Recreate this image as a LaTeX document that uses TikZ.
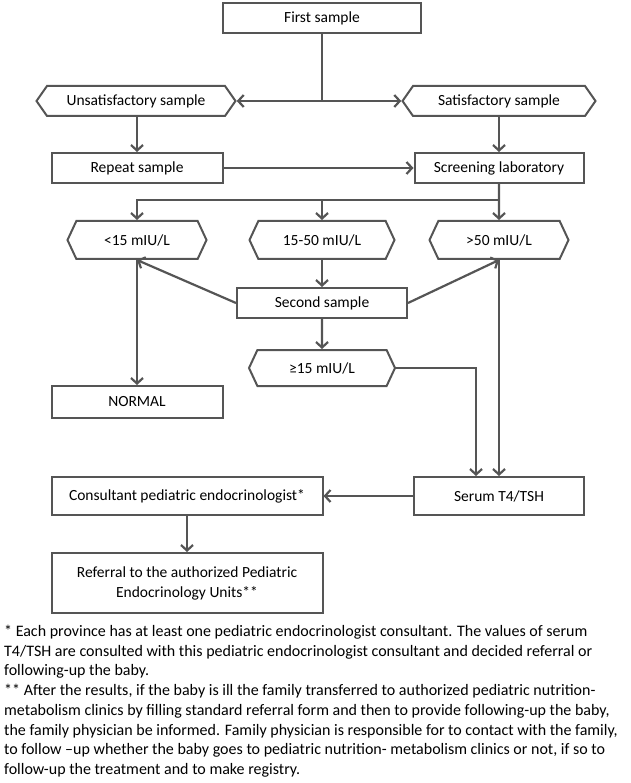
\documentclass[tikz,border=0pt]{standalone}
\usepackage{fontspec}
\setmainfont{Carlito}
\usetikzlibrary{positioning, arrows.meta, shapes.symbols}
\definecolor{linegray}{RGB}{85,85,85}

\tikzset{
    box/.style={draw=linegray, line width=2pt, rectangle, align=center,
        minimum height=30pt, inner sep=2pt, font=\fontsize{15.5}{20}\selectfont},
    hexa/.style={draw=linegray, line width=2pt, signal, signal to=west and east,
        signal pointer angle=110, minimum height=30pt, inner sep=2pt,
        font=\fontsize{15.5}{20}\selectfont},
    line/.style={draw=linegray, line width=2.2pt},
    flow/.style={line, -{Straight Barb[length=5.5pt,width=12pt,line width=2.2pt]}},
}

\begin{document}
\begin{tikzpicture}[x=1pt, y=-1pt]
    \useasboundingbox (0,0) rectangle (630,783);

    \node[box, minimum width=198pt] (first) at (322,18) {First sample};
    \node[hexa, minimum width=199pt] (unsat) at (136,101) {Unsatisfactory sample};
    \node[hexa, minimum width=193pt] (sat) at (499,101) {Satisfactory sample};
    \node[box, minimum width=171pt] (repeat) at (137,168) {Repeat sample};
    \node[box, minimum width=169pt] (screen) at (499,168) {Screening laboratory};

    \node[hexa, signal pointer angle=130, minimum width=139pt, minimum height=38pt] (low) at (137,240) {<15 mIU/L};
    \node[hexa, signal pointer angle=130, minimum width=145pt, minimum height=38pt] (mid) at (322,240) {15-50 mIU/L};
    \node[hexa, signal pointer angle=130, minimum width=139pt, minimum height=38pt] (high) at (499,240) {>50 mIU/L};
    \node[box, minimum width=170pt] (second) at (322,303) {Second sample};
    \node[hexa, signal pointer angle=130, minimum width=146pt, minimum height=36pt] (geq) at (322,368) {≥15 mIU/L};
    \node[box, minimum width=171pt, minimum height=32pt] (normal) at (137,402) {NORMAL};

    \node[box, minimum width=170pt, minimum height=38pt] (serum) at (499,496) {Serum T4/TSH};
    \node[box, minimum width=271pt, minimum height=38pt] (consult) at (187,496) {Consultant pediatric endocrinologist*};
    \node[box, minimum width=271pt, minimum height=60pt] (referral) at (187,583)
        {Referral to the authorized Pediatric\\Endocrinology Units**};

    % first sample splits
    \coordinate (split) at (first.south |- unsat.east);
    \draw[line] (first.south) -- (split);
    \draw[flow] (split) -- (unsat.east);
    \draw[flow] (split) -- (sat.west);
    \draw[flow] (unsat.south -| repeat.north) -- (repeat.north);
    \draw[flow] (sat) -- (screen);
    \draw[flow] (repeat) -- (screen);

    % screening results
    \coordinate (bus) at (499,200);
    \draw[flow] (screen) -- (high);
    \draw[flow] (bus) -| (low.north);
    \draw[flow] (mid.north |- bus) -- (mid.north);
    \draw[flow] (mid) -- (second);
    \draw[flow] (second.west) -- (low.south);
    \draw[flow] (second.east) -- (high.south);
    \draw[flow] (second) -- (geq);
    \draw[flow] (low) -- (normal);
    \draw[flow] (geq.east) -| ([xshift=-23pt]serum.north);
    \draw[flow] (high) -- (serum);
    \draw[flow] (serum) -- (consult);
    \draw[flow] (consult) -- (referral);

    \node[anchor=north west, align=left, inner sep=0pt,
        font=\fontsize{16}{19.7}\selectfont] (notes) at (4,625)
        {* Each province has at least one pediatric endocrinologist consultant. The values of serum\\
        T4/TSH are consulted with this pediatric endocrinologist consultant and decided referral or\\
        following-up the baby.\\
        ** After the results, if the baby is ill the family transferred to authorized pediatric nutrition-\\
        metabolism clinics by filling standard referral form and then to provide following-up the baby,\\
        the family physician be informed. Family physician is responsible for to contact with the family,\\
        to follow –up whether the baby goes to pediatric nutrition- metabolism clinics or not, if so to\\
        follow-up the treatment and to make registry.};
\end{tikzpicture}
\end{document}
